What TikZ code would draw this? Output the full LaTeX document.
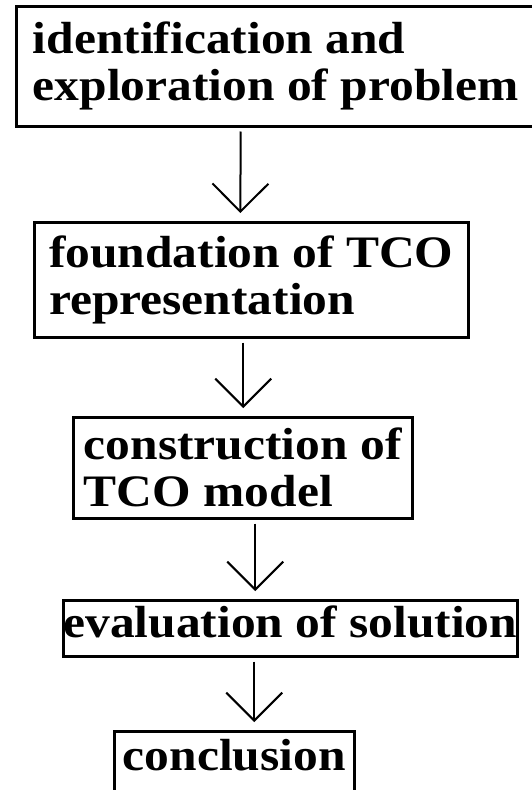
\documentclass[tikz,border=0pt]{standalone}
\usepackage{fontspec}
\setmainfont[FakeStretch=1.1]{Liberation Serif}
\usepackage{tikz}
\usetikzlibrary{arrows.meta}

\tikzset{
  box/.style={draw, line width=2.5pt, anchor=north west, align=left, inner sep=0pt,
    font=\fontsize{45}{47}\selectfont\bfseries},
  flow/.style={line width=2pt, -{Straight Barb[length=28pt,width=56pt,line width=2pt]},
    shorten <=4pt, shorten >=8pt}
}

\begin{document}
\begin{tikzpicture}[x=1pt,y=-1pt]
    \useasboundingbox (0,0) rectangle (532,790);

    % 方框
    \node[box, minimum width=519pt, minimum height=120pt] (ident) at (15,5)
        {identification and\\exploration of problem};
    \node[box, minimum width=434pt, minimum height=115pt] (found) at (33,221)
        {foundation of TCO\\representation};
    \node[box, minimum width=339pt, minimum height=101pt] (constr) at (72,416)
        {construction of\\TCO model};
    \node[box, minimum width=454pt, minimum height=56pt, text depth=14pt] (evalu) at (62,599)
        {evaluation of solution};
    \node[box, minimum width=240pt, minimum height=62pt, text depth=14pt] (concl) at (113,730)
        {conclusion};

    % 箭头
    \draw[flow] ([xshift=-35pt]ident.south) -- ([xshift=-11pt]found.north);
    \draw[flow] ([xshift=-8pt]found.south) -- ([xshift=0.5pt]constr.north);
    \draw[flow] ([xshift=12.5pt]constr.south) -- ([xshift=-35pt]evalu.north);
    \draw[flow] ([xshift=-36pt]evalu.south) -- ([xshift=20pt]concl.north);
\end{tikzpicture}
\end{document}
